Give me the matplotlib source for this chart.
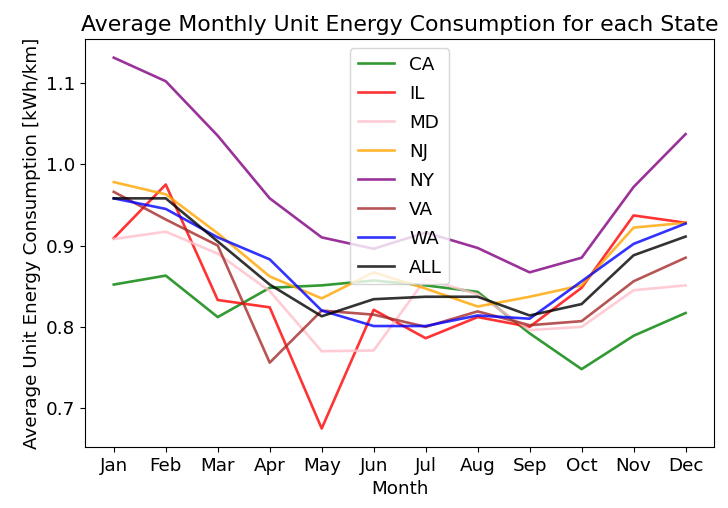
import matplotlib.pyplot as plt

months = ['Jan', 'Feb', 'Mar', 'Apr', 'May', 'Jun', 'Jul', 'Aug', 'Sep', 'Oct', 'Nov', 'Dec']

ca = [0.852, 0.863, 0.812, 0.848, 0.851, 0.857, 0.851, 0.843, 0.792, 0.748, 0.789, 0.817]
il = [0.909, 0.975, 0.833, 0.824, 0.675, 0.821, 0.786, 0.812, 0.800, 0.848, 0.937, 0.928]
md = [0.908, 0.917, 0.890, 0.844, 0.770, 0.771, 0.859, 0.840, 0.796, 0.800, 0.845, 0.851]
nj = [0.978, 0.963, 0.915, 0.862, 0.835, 0.867, 0.847, 0.825, 0.837, 0.851, 0.922, 0.928]
ny = [1.131, 1.102, 1.035, 0.958, 0.910, 0.896, 0.916, 0.897, 0.867, 0.885, 0.972, 1.037]
va = [0.966, 0.932, 0.900, 0.756, 0.820, 0.815, 0.800, 0.819, 0.802, 0.807, 0.856, 0.885]
wa = [0.958, 0.945, 0.910, 0.883, 0.820, 0.801, 0.801, 0.814, 0.810, 0.856, 0.902, 0.927]
all_states = [0.958, 0.958, 0.905, 0.852, 0.813, 0.834, 0.837, 0.837, 0.814, 0.828, 0.888, 0.911]

series = {
    'CA': (ca, 'green'),
    'IL': (il, 'red'),
    'MD': (md, 'pink'),
    'NJ': (nj, 'orange'),
    'NY': (ny, 'purple'),
    'VA': (va, 'brown'),
    'WA': (wa, 'blue'),
    'ALL': (all_states, 'black'),
}

plt.rcParams['font.size'] = 13.2
fig, ax = plt.subplots(figsize=(7.28, 5.08), dpi=100)
fig.subplots_adjust(left=0.117, right=0.981, top=0.923, bottom=0.12)

for name, (vals, color) in series.items():
    ax.plot(months, vals, color=color, alpha=0.8, linewidth=1.9, label=name)

ax.set_title('Average Monthly Unit Energy Consumption for each State')
ax.set_xlabel('Month')
ax.set_ylabel('Average Unit Energy Consumption [kWh/km]')
ax.legend(loc='upper center', labelspacing=0.6)
fig.savefig('out.png')
